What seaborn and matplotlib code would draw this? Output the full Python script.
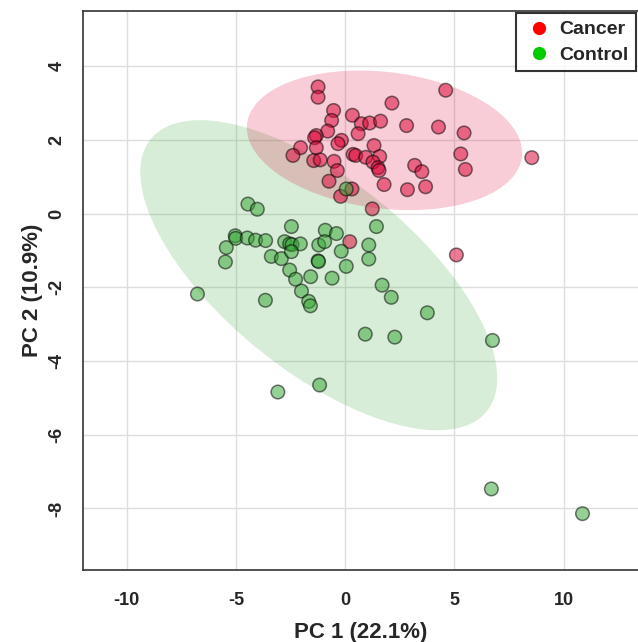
import numpy as np
import pandas as pd
import matplotlib
matplotlib.use("Agg")
import matplotlib.pyplot as plt
from matplotlib.patches import Ellipse
from matplotlib.lines import Line2D
import seaborn as sns

# PCA scores
cancer_pc1 = [-1.24, -1.24, -0.53, -0.62, 0.33, 0.74, 1.12, 1.62, 2.14, 4.60,
              2.81, 4.27, 5.44, -0.80, 0.59, -1.32, -1.40, -2.04, -1.32, -2.39,
              -1.44, -1.14, -0.17, -0.33, 1.32, 0.36, 0.48, 0.94, 1.58, 1.27,
              1.50, 1.55, -0.51, -0.36, 3.18, 3.51, 5.29, 5.50, 8.54, 1.78,
              2.85, 3.68, -0.74, 0.31, -0.21, 1.24, 0.21, 5.09]
cancer_pc2 = [3.44, 3.16, 2.80, 2.53, 2.67, 2.44, 2.46, 2.51, 3.00, 3.35,
              2.39, 2.35, 2.19, 2.24, 2.17, 2.12, 2.06, 1.79, 1.79, 1.58,
              1.44, 1.46, 1.99, 1.90, 1.85, 1.61, 1.58, 1.53, 1.55, 1.40,
              1.25, 1.17, 1.42, 1.17, 1.31, 1.14, 1.62, 1.20, 1.52, 0.79,
              0.65, 0.73, 0.88, 0.67, 0.47, 0.13, -0.76, -1.12]

control_pc1 = [0.05, 1.43, -4.45, -4.02, -2.46, -0.91, -0.40, -5.03, -5.01, -4.48,
               -4.10, -3.64, -5.44, -2.77, -2.54, -2.43, -2.05, -1.21, -0.94, -0.18,
               1.08, 1.08, -3.38, -2.92, -2.46, -1.24, -1.22, -5.48, 0.05, -2.54,
               -2.27, -1.58, -0.60, -6.76, -3.65, -2.00, -1.67, -1.59, 1.69, 2.11,
               3.76, 2.27, 0.92, 6.74, -1.17, -3.08, 6.69, 10.86]
control_pc2 = [0.67, -0.35, 0.26, 0.12, -0.35, -0.45, -0.54, -0.60, -0.67, -0.66,
               -0.72, -0.73, -0.92, -0.76, -0.82, -0.84, -0.82, -0.85, -0.76, -1.02,
               -0.85, -1.23, -1.16, -1.22, -1.03, -1.28, -1.30, -1.31, -1.43, -1.53,
               -1.78, -1.71, -1.75, -2.18, -2.35, -2.10, -2.38, -2.50, -1.94, -2.27,
               -2.69, -3.35, -3.27, -3.44, -4.65, -4.84, -7.47, -8.14]

# 95% ellipses: centre, semi-axes, tilt (degrees)
ellipse_center = {"Cancer": (1.80, 1.99), "Control": (-1.21, -1.67)}
ellipse_axes = {"Cancer": (6.31, 1.86), "Control": (8.70, 2.95)}
ellipse_angle = {"Cancer": -3.4, "Control": -21.5}

groups = ["Cancer", "Control"]
group_colors = {"Cancer": "#DC0537", "Control": "#37A537"}
legend_colors = {"Cancer": "#FF0000", "Control": "#00CC00"}

df = pd.DataFrame({
    "PC1": cancer_pc1 + control_pc1,
    "PC2": cancer_pc2 + control_pc2,
    "Group": ["Cancer"] * len(cancer_pc1) + ["Control"] * len(control_pc1),
})

sns.set_style("white")
plt.rcParams["font.family"] = ["Liberation Sans", "DejaVu Sans"]
plt.rcParams["font.weight"] = "bold"
plt.rcParams["axes.unicode_minus"] = False

fig = plt.figure(figsize=(6.38, 6.42), dpi=100)
ax = fig.add_axes([0.130, 0.1121, 0.870, 0.8708])

# control first, cancer laid over it
for g in ["Control", "Cancer"]:
    a, b = ellipse_axes[g]
    ax.add_patch(Ellipse(ellipse_center[g], 2 * a, 2 * b, angle=ellipse_angle[g],
                         facecolor=group_colors[g], edgecolor="none",
                         alpha=0.2, zorder=1))

sns.scatterplot(data=df, x="PC1", y="PC2", hue="Group", palette=group_colors,
                s=95, alpha=0.52, edgecolor="black", linewidth=1.1,
                legend=False, ax=ax, zorder=3)

ax.set_xlim(-12.0, 13.4)
ax.set_ylim(-9.67, 5.50)
ax.set_xticks([-10, -5, 0, 5, 10])
ax.set_yticks([4, 2, 0, -2, -4, -6, -8])
ax.grid(True, color="#DEDEDE", linewidth=1)
ax.set_axisbelow(True)

for side in ["left", "top", "bottom"]:
    ax.spines[side].set_color("#333333")
    ax.spines[side].set_linewidth(1.2)
ax.spines["right"].set_visible(False)

ax.tick_params(axis="x", direction="out", length=5.5, width=1.1, color="#333333",
               labelsize=13, pad=10)
ax.tick_params(axis="y", direction="out", length=5.5, width=1.1, color="#333333",
               labelsize=13, pad=7)
for lab in ax.get_yticklabels():
    lab.set_rotation(90)
    lab.set_va("center")
    lab.set_fontweight("bold")
for lab in ax.get_xticklabels():
    lab.set_fontweight("bold")

ax.set_xlabel("PC 1 (22.1%)", fontsize=16, fontweight="bold", labelpad=10)
ax.set_ylabel("PC 2 (10.9%)", fontsize=16, fontweight="bold", labelpad=4)

handles = [Line2D([0], [0], marker="o", linestyle="none", markersize=9.5,
                  markerfacecolor=legend_colors[g], markeredgecolor="none", label=g)
           for g in groups]
leg = ax.legend(handles=handles, loc="upper right", frameon=True, fancybox=False,
                edgecolor="black", borderaxespad=0.1, handletextpad=0.3,
                handlelength=1.5, prop={"weight": "bold", "size": 14},
                borderpad=0.4, labelspacing=0.4)
leg.get_frame().set_linewidth(1.5)
leg.set_zorder(5)

fig.savefig("out.png", dpi=100)
